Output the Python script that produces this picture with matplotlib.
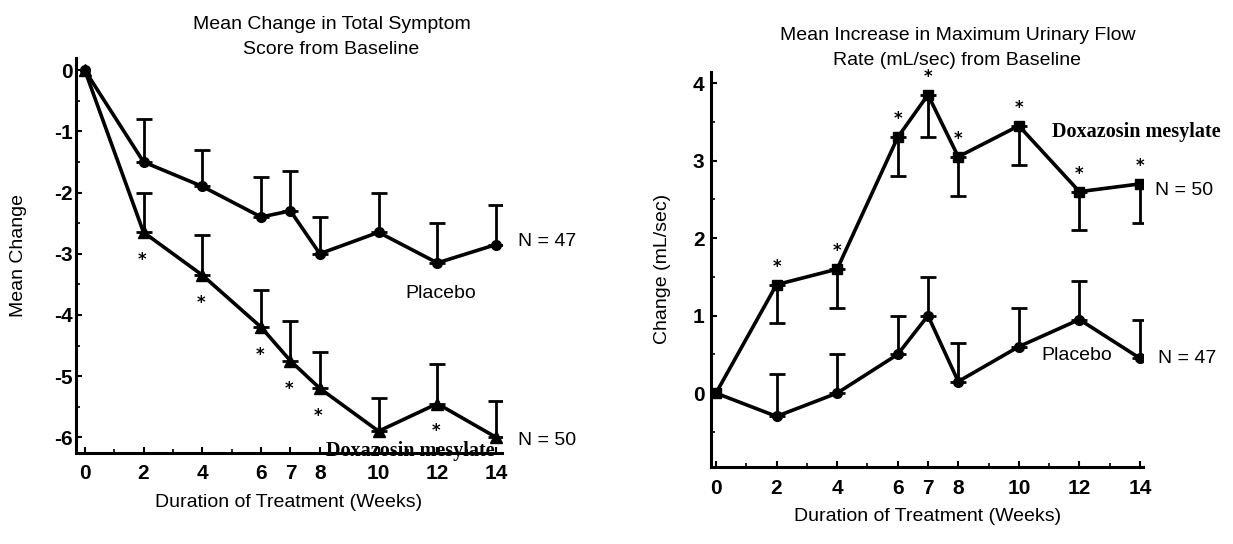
import matplotlib
matplotlib.use("Agg")
import matplotlib.pyplot as plt
import numpy as np

weeks = [0, 2, 4, 6, 7, 8, 10, 12, 14]

# Left panel: Mean change in total symptom score
sym_placebo = [0, -1.5, -1.9, -2.4, -2.3, -3.0, -2.65, -3.15, -2.85]
sym_placebo_top = [0, -0.8, -1.3, -1.75, -1.65, -2.4, -2.0, -2.5, -2.2]
sym_doxa = [0, -2.65, -3.35, -4.2, -4.75, -5.2, -5.9, -5.45, -6.0]
sym_doxa_top = [0, -2.0, -2.7, -3.6, -4.1, -4.6, -5.35, -4.8, -5.4]
sym_sig_weeks = [2, 4, 6, 7, 8, 12]

# Right panel: Mean increase in maximum urinary flow rate
flow_doxa = [0, 1.4, 1.6, 3.3, 3.85, 3.05, 3.45, 2.6, 2.7]
flow_doxa_low = [0, 0.9, 1.1, 2.8, 3.3, 2.55, 2.95, 2.1, 2.2]
flow_placebo = [0, -0.3, 0.0, 0.5, 1.0, 0.15, 0.6, 0.95, 0.45]
flow_placebo_top = [0, 0.25, 0.5, 1.0, 1.5, 0.65, 1.1, 1.45, 0.95]
flow_sig_weeks = [2, 4, 6, 7, 8, 10, 12, 14]

FONT = "Liberation Sans"
SERIF = "Liberation Serif"
TXT = 14
TICK = 15

fig = plt.figure(figsize=(12.33, 5.44), dpi=100)
fig.patch.set_facecolor("white")

def style(ax, xpad, ypad):
    for s in ["top", "right"]:
        ax.spines[s].set_visible(False)
    for s in ["left", "bottom"]:
        ax.spines[s].set_linewidth(2.2)
        ax.spines[s].set_color("black")
    ax.tick_params(axis="both", which="major", length=4, width=1.5,
                   labelsize=TICK, direction="in")
    ax.tick_params(axis="x", which="major", pad=xpad)
    ax.tick_params(axis="y", which="major", pad=ypad)
    ax.tick_params(axis="both", which="minor", length=3, width=1.2, direction="in")
    for lab in ax.get_xticklabels() + ax.get_yticklabels():
        lab.set_fontfamily(FONT)
        lab.set_fontweight("bold")

# ---------------- Left panel ----------------
ax1 = fig.add_axes([0.0616, 0.168, 0.3455, 0.7256])
w = np.array(weeks, dtype=float)
p = np.array(sym_placebo); pt = np.array(sym_placebo_top)
d = np.array(sym_doxa); dt = np.array(sym_doxa_top)
zeros = np.zeros(len(w) - 1)
ax1.errorbar(w[1:], p[1:], yerr=[zeros, (pt - p)[1:]], fmt="none",
             ecolor="black", elinewidth=2.0, capsize=6, capthick=2.0)
ax1.errorbar(w[1:], d[1:], yerr=[zeros, (dt - d)[1:]], fmt="none",
             ecolor="black", elinewidth=2.0, capsize=6, capthick=2.0)
ax1.plot(w, p, "-o", color="black", lw=2.6, ms=7)
ax1.plot(w, d, "-^", color="black", lw=2.6, ms=8)
for wk in sym_sig_weeks:
    i = weeks.index(wk)
    ax1.annotate("*", (wk, d[i]), xytext=(-1, -20), textcoords="offset points",
                 ha="center", va="center", fontsize=12, fontweight="bold")
ax1.set_xlim(-0.3, 14.2)
ax1.set_ylim(-6.25, 0.2)
ax1.set_xticks(weeks)
ax1.set_xticks(range(0, 15), minor=True)
ax1.set_yticks(range(-6, 1))
ax1.set_yticklabels([str(v) if v == 0 else "-%d" % -v for v in range(-6, 1)])
ax1.set_yticks(np.arange(-6, 0.01, 0.5), minor=True)
style(ax1, xpad=8, ypad=2)
ax1.set_xlabel("Duration of Treatment (Weeks)", fontsize=TXT, fontfamily=FONT, labelpad=8)
ax1.set_ylabel("Mean Change", fontsize=TXT, fontfamily=FONT, labelpad=20)
ax1.set_title("Mean Change in Total Symptom\nScore from Baseline", fontsize=TXT,
              fontfamily=FONT, pad=3, x=0.6, linespacing=1.6)
ax1.text(14.75, -2.8, "N = 47", fontsize=TXT, fontfamily=FONT, va="center")
ax1.text(12.1, -3.65, "Placebo", fontsize=TXT, fontfamily=FONT, va="center", ha="center")
ax1.text(14.75, -6.05, "N = 50", fontsize=TXT, fontfamily=FONT, va="center")
ax1.text(13.95, -6.22, "Doxazosin mesylate", fontsize=14.5, fontfamily=SERIF,
         fontweight="bold", va="center", ha="right")

# ---------------- Right panel ----------------
ax2 = fig.add_axes([0.577, 0.142, 0.35, 0.7265])
fd = np.array(flow_doxa); fdl = np.array(flow_doxa_low)
fp = np.array(flow_placebo); fpt = np.array(flow_placebo_top)
ax2.errorbar(w[1:], fd[1:], yerr=[(fd - fdl)[1:], zeros], fmt="none",
             ecolor="black", elinewidth=2.0, capsize=6, capthick=2.0)
ax2.errorbar(w[1:], fp[1:], yerr=[zeros, (fpt - fp)[1:]], fmt="none",
             ecolor="black", elinewidth=2.0, capsize=6, capthick=2.0)
ax2.plot(w, fd, "-s", color="black", lw=2.6, ms=7)
ax2.plot(w, fp, "-o", color="black", lw=2.6, ms=7)
for wk in flow_sig_weeks:
    i = weeks.index(wk)
    ax2.annotate("*", (wk, fd[i]), xytext=(0, 13), textcoords="offset points",
                 ha="center", va="center", fontsize=12, fontweight="bold")
ax2.set_xlim(-0.15, 14.1)
ax2.set_ylim(-0.95, 4.15)
ax2.set_xticks(weeks)
ax2.set_xticks(range(0, 15), minor=True)
ax2.set_yticks(range(0, 5))
ax2.set_yticks(np.arange(-0.5, 4.01, 0.5), minor=True)
style(ax2, xpad=9, ypad=5)
ax2.set_xlabel("Duration of Treatment (Weeks)", fontsize=TXT, fontfamily=FONT, labelpad=7)
ax2.set_ylabel("Change (mL/sec)", fontsize=TXT, fontfamily=FONT, labelpad=16)
ax2.set_title("Mean Increase in Maximum Urinary Flow\nRate (mL/sec) from Baseline",
              fontsize=TXT, fontfamily=FONT, pad=5, x=0.57, linespacing=1.6)
ax2.text(11.1, 3.37, "Doxazosin mesylate", fontsize=14.5, fontfamily=SERIF,
         fontweight="bold", va="center", ha="left")
ax2.text(14.5, 2.62, "N = 50", fontsize=TXT, fontfamily=FONT, va="center")
ax2.text(11.9, 0.49, "Placebo", fontsize=TXT, fontfamily=FONT, va="center", ha="center")
ax2.text(14.6, 0.45, "N = 47", fontsize=TXT, fontfamily=FONT, va="center")

fig.savefig("out.png", dpi=100, facecolor="white")
